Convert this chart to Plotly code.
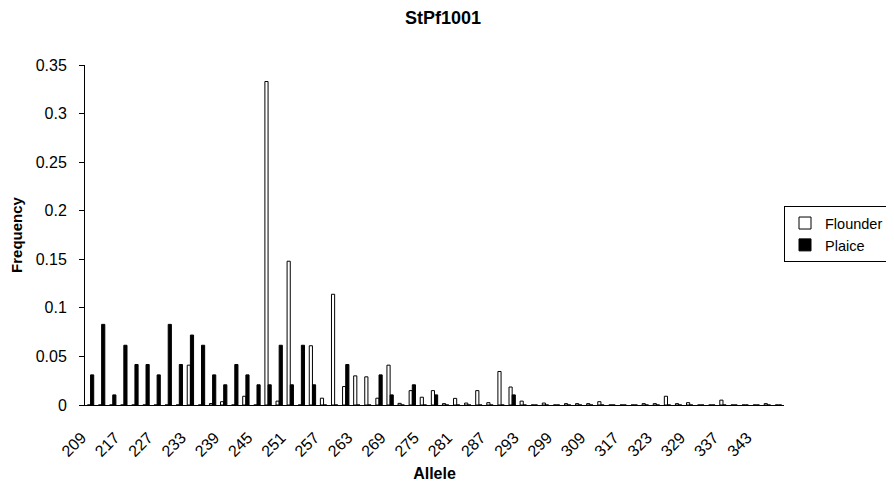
import plotly.graph_objects as go

alleles = ["209", "213", "215", "217", "221", "223", "227", "229", "231", "233",
           "235", "237", "239", "241", "243", "245", "247", "249", "251", "253",
           "255", "257", "259", "261", "263", "265", "267", "269", "271", "273",
           "275", "277", "279", "281", "283", "285", "287", "289", "291", "293",
           "295", "297", "299", "301", "305", "309", "311", "313", "317", "319",
           "321", "323", "325", "327", "329", "331", "333", "337", "339", "341",
           "343", "345", "347"]

flounder = [0, 0, 0, 0, 0, 0, 0, 0, 0, 0.041,
            0, 0.0015, 0.0034, 0, 0.009, 0, 0.333, 0.004, 0.148, 0,
            0.061, 0.007, 0.114, 0.019, 0.030, 0.029, 0.007, 0.041, 0.0017, 0.0148,
            0.008, 0.0148, 0.0014, 0.0068, 0.002, 0.0148, 0.0024, 0.0345, 0.0185, 0.004,
            0, 0.002, 0, 0.0014, 0.0014, 0.0014, 0.0034, 0, 0, 0,
            0.0014, 0.0014, 0.009, 0.0014, 0.0024, 0, 0, 0.005, 0, 0,
            0, 0.0014, 0]

plaice = [0.031, 0.083, 0.0104, 0.0615, 0.0417, 0.0417, 0.031, 0.083, 0.0417, 0.072,
          0.0615, 0.031, 0.0208, 0.0417, 0.031, 0.0208, 0.0208, 0.0615, 0.0208, 0.0615,
          0.0208, 0, 0, 0.0417, 0, 0, 0.031, 0.0104, 0, 0.0208,
          0, 0.0104, 0, 0, 0, 0, 0, 0, 0.0104, 0,
          0, 0, 0, 0, 0, 0, 0, 0, 0, 0,
          0, 0, 0, 0, 0, 0, 0, 0, 0, 0,
          0, 0, 0]

tick_labels = alleles[::3]
y_ticks = [0, 0.05, 0.1, 0.15, 0.2, 0.25, 0.3, 0.35]
y_tick_text = ["0", "0.05", "0.1", "0.15", "0.2", "0.25", "0.3", "0.35"]

FONT = "Arial, Liberation Sans, sans-serif"

fig = go.Figure()
fig.add_trace(go.Bar(x=alleles, y=flounder, name="Flounder",
                     marker=dict(color="white", line=dict(color="black", width=1))))
fig.add_trace(go.Bar(x=alleles, y=plaice, name="Plaice",
                     marker=dict(color="black", line=dict(color="black", width=1))))

n = len(alleles)
fig.update_layout(
    width=886, height=477,
    margin=dict(l=77, r=110, t=57, b=80, autoexpand=False),
    paper_bgcolor="white", plot_bgcolor="white",
    barmode="group", bargap=0.4286, bargroupgap=0,
    font=dict(family=FONT, size=16, color="black"),
    title=dict(text="<b>StPf1001</b>", x=0.491, xanchor="center",
               xref="container", y=0.98, yref="container", yanchor="middle",
               font=dict(size=18, family=FONT)),
    showlegend=True,
    legend=dict(x=1.0, xanchor="left", y=0.585, yanchor="top",
                bordercolor="black", borderwidth=1, bgcolor="white",
                font=dict(size=14.5, family=FONT), tracegroupgap=0,
                itemwidth=30),
    xaxis=dict(type="category", categoryorder="array", categoryarray=alleles,
               tickmode="array", tickvals=tick_labels, ticktext=tick_labels,
               tickangle=-45, ticks="", showline=True, linecolor="black",
               linewidth=1, showgrid=False, zeroline=False, automargin=False,
               ticklabelstandoff=16, ticklabelshift=-9,
               tickfont=dict(size=16, family=FONT),
               title=dict(text="<b>Allele</b>", font=dict(size=16, family=FONT),
                          standoff=8)),
    xaxis2=dict(overlaying="x", anchor="y", side="bottom", type="linear",
                range=[-0.5, n - 0.5], tickmode="array",
                tickvals=[k - 0.5 for k in range(n + 1)],
                showticklabels=False, ticks="outside", ticklen=5,
                tickcolor="black", showline=False, showgrid=False,
                zeroline=False, automargin=False),
    yaxis=dict(range=[0, 0.35], tickmode="array", tickvals=y_ticks,
               ticktext=y_tick_text, ticks="outside", ticklen=5,
               tickcolor="black", showline=True, linecolor="black",
               linewidth=1, showgrid=False, zeroline=False, automargin=False,
               ticklabelstandoff=9,
               tickfont=dict(size=16, family=FONT),
               title=dict(text="<b>Frequency</b>",
                          font=dict(size=15, family=FONT), standoff=12)),
)

fig.write_html("out.html")
